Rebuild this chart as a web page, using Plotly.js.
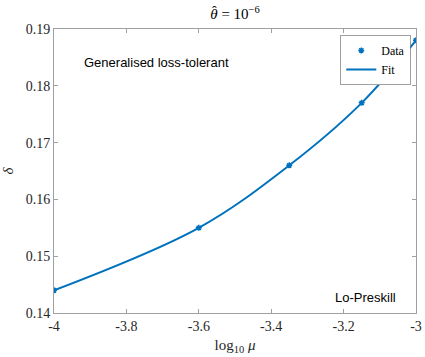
<!DOCTYPE html>
<html>
<head>
<meta charset="utf-8">
<script src="https://cdn.plot.ly/plotly-3.0.1.min.js"></script>
<style>
	body { margin: 0; background: #fff; }
	#graph { width: 425px; height: 357px; }
</style>
</head>
<body>
<div id="graph"></div>
<script>
// log10(mu) values and the delta
const logMu = [-4, -3.6, -3.35, -3.15, -3]
const delta = [0.144, 0.155, 0.166, 0.177, 0.188]

const xTicks = [-4, -3.8, -3.6, -3.4, -3.2, -3]
const xTickText = ['-4', '-3.8', '-3.6', '-3.4', '-3.2', '-3']
const yTicks = [0.14, 0.15, 0.16, 0.17, 0.18, 0.19]
const yTickText = ['0.14', '0.15', '0.16', '0.17', '0.18', '0.19']

const blue = '#0072BD'
const serif = 'Liberation Serif, Times New Roman, serif'
const sans = 'Liberation Sans, Arial, sans-serif'

const data = [
	{
		name: 'Data',
		x: logMu,
		y: delta,
		type: 'scatter',
		mode: 'markers',
		marker: { symbol: 'asterisk-open', size: 5, color: blue, line: { color: blue, width: 1.5 } },
	}, {
		name: 'Fit',
		x: logMu,
		y: delta,
		type: 'scatter',
		mode: 'lines',
		line: { color: blue, width: 2, shape: 'spline', smoothing: 1 },
	},
]

const axis = {
	showline: true,
	linecolor: '#a0a0a0',
	linewidth: 1,
	mirror: 'ticks',
	ticks: 'inside',
	ticklen: 4,
	tickcolor: '#a0a0a0',
	showgrid: false,
	zeroline: false,
	tickfont: { family: serif, size: 14, color: '#262626' },
}

const layout = {
	width: 425,
	height: 357,
	margin: { l: 54, r: 9, t: 29, b: 44 },
	paper_bgcolor: '#fff',
	plot_bgcolor: '#fff',
	showlegend: true,
	title: {
		text: '<i>θ</i> = 10<sup>−6</sup>',
		font: { family: serif, size: 15, color: '#000' },
		x: 0.553, xanchor: 'center',
		y: 0.962, yanchor: 'middle',
	},
	xaxis: Object.assign({}, axis, {
		range: [-4, -3],
		tickvals: xTicks,
		ticktext: xTickText,
		title: { text: 'log<sub>10</sub> <i>μ</i>', font: { family: serif, size: 15, color: '#262626' }, standoff: 6 },
	}),
	yaxis: Object.assign({}, axis, {
		range: [0.14, 0.19],
		tickvals: yTicks,
		ticktext: yTickText,
		title: { text: '<i>δ</i>', font: { family: serif, size: 15, color: '#262626' }, standoff: 8 },
	}),
	legend: {
		x: 0.985, xanchor: 'right',
		y: 0.978, yanchor: 'top',
		bgcolor: '#fff',
		bordercolor: '#777',
		borderwidth: 0.7,
		font: { family: serif, size: 12, color: '#000' },
		tracegroupgap: 0,
		itemwidth: 30,
	},
	annotations: [
		{
			// hat over the theta of the title
			text: 'ˆ',
			xref: 'paper', yref: 'paper',
			x: 0.443, y: 1.06, xanchor: 'center', yanchor: 'middle',
			showarrow: false,
			font: { family: serif, size: 14, color: '#000' },
		}, {
			text: 'Generalised loss-tolerant',
			xref: 'paper', yref: 'paper',
			x: 0.077, y: 0.883, xanchor: 'left', yanchor: 'middle',
			showarrow: false,
			font: { family: sans, size: 13, color: '#000' },
		}, {
			text: 'Lo-Preskill',
			xref: 'paper', yref: 'paper',
			x: 0.77, y: 0.055, xanchor: 'left', yanchor: 'middle',
			showarrow: false,
			font: { family: sans, size: 13, color: '#000' },
		},
	],
}

Plotly.newPlot('graph', data, layout, { displayModeBar: false, staticPlot: true })
</script>
</body>
</html>
